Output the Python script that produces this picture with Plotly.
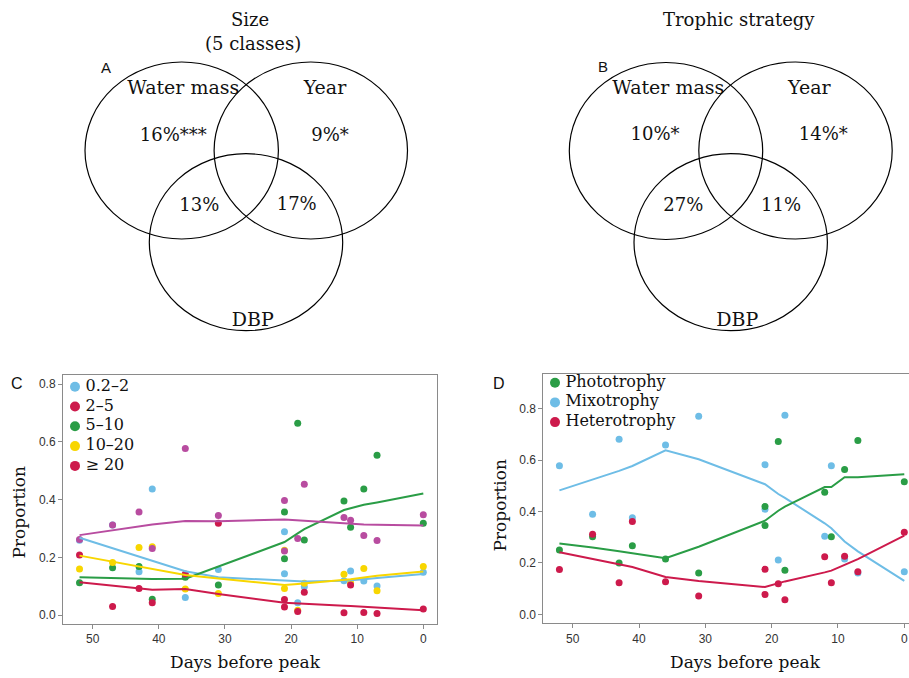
import plotly.graph_objects as go

# target page is 909x678; the page body margin is removed after plotting (post_script)
PAGE_W, PAGE_H = 909, 678
OFF = 0
W, H = PAGE_W - OFF, PAGE_H - OFF

# ---------------- data ----------------
# sampling days (two samples on day 21)
sample_days = [52, 47, 43, 41, 36, 31, 21, 21, 19, 18, 12, 11, 9, 7, 0]
fit_days = [52, 47, 43, 41, 36, 31, 21, 19, 18, 12, 11, 9, 7, 0]

# Panel C: size classes (proportions)
size_labels = ["0.2–2", "2–5", "5–10", "10–20", "≥ 20"]
size_02_2 = [0.259, 0.312, 0.150, 0.437, 0.061, 0.158, 0.289, 0.143, 0.043, 0.098, 0.119, 0.153, 0.118, 0.101, 0.148]
size_2_5 = [0.208, 0.030, 0.092, 0.043, 0.142, 0.318, 0.028, 0.054, 0.012, 0.079, 0.008, 0.104, 0.009, 0.005, 0.021]
size_5_10 = [0.112, 0.164, 0.168, 0.055, 0.131, 0.104, 0.195, 0.357, 0.665, 0.260, 0.395, 0.304, 0.437, 0.554, 0.318]
size_10_20 = [0.160, 0.182, 0.234, 0.237, 0.090, 0.075, 0.092, 0.225, 0.017, 0.110, 0.141, 0.112, 0.161, 0.084, 0.168]
size_ge20 = [0.262, 0.312, 0.357, 0.231, 0.577, 0.345, 0.397, 0.222, 0.265, 0.453, 0.338, 0.329, 0.276, 0.258, 0.348]

fit_02_2 = [0.268, 0.232, 0.202, 0.188, 0.152, 0.131, 0.119, 0.117, 0.116, 0.119, 0.120, 0.124, 0.128, 0.142]
fit_2_5 = [0.114, 0.103, 0.092, 0.088, 0.090, 0.073, 0.043, 0.040, 0.039, 0.032, 0.031, 0.028, 0.026, 0.017]
fit_5_10 = [0.131, 0.128, 0.125, 0.125, 0.126, 0.168, 0.253, 0.283, 0.298, 0.364, 0.370, 0.382, 0.390, 0.421]
fit_10_20 = [0.206, 0.185, 0.168, 0.160, 0.139, 0.127, 0.104, 0.108, 0.110, 0.121, 0.124, 0.130, 0.136, 0.151]
fit_ge20 = [0.277, 0.295, 0.308, 0.314, 0.326, 0.325, 0.331, 0.328, 0.325, 0.317, 0.315, 0.314, 0.313, 0.310]

# Panel D: trophic strategy (proportions)
troph_labels = ["Phototrophy", "Mixotrophy", "Heterotrophy"]
photo = [0.250, 0.302, 0.200, 0.267, 0.215, 0.161, 0.345, 0.419, 0.672, 0.171, 0.475, 0.302, 0.563, 0.676, 0.516]
mixo = [0.578, 0.389, 0.681, 0.376, 0.659, 0.770, 0.582, 0.409, 0.211, 0.774, 0.304, 0.578, 0.215, 0.161, 0.166]
hetero = [0.174, 0.311, 0.123, 0.361, 0.127, 0.071, 0.077, 0.175, 0.119, 0.057, 0.224, 0.123, 0.226, 0.166, 0.319]

fit_photo = [0.275, 0.260, 0.245, 0.238, 0.218, 0.263, 0.364, 0.403, 0.419, 0.495, 0.495, 0.533, 0.533, 0.545]
fit_mixo = [0.482, 0.523, 0.558, 0.577, 0.638, 0.603, 0.506, 0.468, 0.453, 0.354, 0.335, 0.283, 0.245, 0.130]
fit_hetero = [0.241, 0.215, 0.197, 0.184, 0.145, 0.130, 0.106, 0.120, 0.128, 0.163, 0.170, 0.192, 0.215, 0.306]

# Venn diagrams (variance partitioning)
venn_sets = ["Water mass", "Year", "DBP"]
venn_a_values = ["16%***", "9%*", "13%", "17%"]   # WM only, Year only, WM∩DBP, Year∩DBP
venn_b_values = ["10%*", "14%*", "27%", "11%"]

x_ticks = [50, 40, 30, 20, 10, 0]
y_ticks = [0.0, 0.2, 0.4, 0.6, 0.8]

# ---------------- styles / layout ----------------
BLUE = "#6EBDE6"
RED = "#CD1A4C"
GREEN = "#2A9D46"
YELLOW = "#F8D600"
MAGENTA = "#B84CA0"
SERIF = "DejaVu Serif"
SANS = "Liberation Sans"


def px(x):
    return (x - OFF) / W


def py(y):
    return 1 - (y - OFF) / H


fig = go.Figure()

# ---------- Panel C ----------
c_series = [
    (size_02_2, fit_02_2, BLUE),
    (size_5_10, fit_5_10, GREEN),
    (size_10_20, fit_10_20, YELLOW),
    (size_2_5, fit_2_5, RED),
    (size_ge20, fit_ge20, MAGENTA),
]
for vals, fit, col in c_series:
    fig.add_trace(go.Scatter(x=sample_days, y=vals, mode="markers", xaxis="x", yaxis="y",
                             marker=dict(color=col, size=7), showlegend=False))
for vals, fit, col in c_series:
    fig.add_trace(go.Scatter(x=fit_days, y=fit, mode="lines", xaxis="x", yaxis="y",
                             line=dict(color=col, width=2), showlegend=False))

# ---------- Panel D ----------
d_series = [(mixo, fit_mixo, BLUE), (photo, fit_photo, GREEN), (hetero, fit_hetero, RED)]
for vals, fit, col in d_series:
    fig.add_trace(go.Scatter(x=sample_days, y=vals, mode="markers", xaxis="x2", yaxis="y2",
                             marker=dict(color=col, size=7), showlegend=False))
for vals, fit, col in d_series:
    fig.add_trace(go.Scatter(x=fit_days, y=fit, mode="lines", xaxis="x2", yaxis="y2",
                             line=dict(color=col, width=2), showlegend=False))

# ---------- overlay (page-pixel helper axes): Venn diagrams and key boxes ----------
venn_layouts = [
    dict(centers=[(181.7, 150.5), (310.8, 150.5), (246.0, 242.2)],
         set_pos=[(183.3, 89), (325, 89), (252.7, 321.5)],
         val_pos=[(173.3, 136.5), (330, 136.5), (199.3, 206.5), (296.7, 205.5)],
         values=venn_a_values),
    dict(centers=[(666.0, 151.0), (795.5, 150.5), (730.7, 242.2)],
         set_pos=[(668.3, 89), (809.3, 89), (737.3, 321.5)],
         val_pos=[(655, 135.5), (823.3, 135.5), (683.3, 206.5), (781, 206.5)],
         values=venn_b_values),
]
RX, RY = 96.7, 88.5
shapes = []
for v in venn_layouts:
    for cx, cy in v["centers"]:
        shapes.append(dict(type="circle", xref="x3", yref="y3", x0=cx - RX, x1=cx + RX,
                           y0=cy - RY, y1=cy + RY, line=dict(color="black", width=1.2)))
    fig.add_trace(go.Scatter(x=[p[0] for p in v["set_pos"]], y=[p[1] for p in v["set_pos"]],
                             text=venn_sets, mode="text", xaxis="x3", yaxis="y3", showlegend=False,
                             textfont=dict(family=SERIF, size=19, color="#111")))
    fig.add_trace(go.Scatter(x=[p[0] for p in v["val_pos"]], y=[p[1] for p in v["val_pos"]],
                             text=v["values"], mode="text", xaxis="x3", yaxis="y3", showlegend=False,
                             textfont=dict(family=SERIF, size=18, color="#111")))

# keys (legends) drawn as marker+text rows
key_c = dict(x=75, y0=386.7, dy=19.8, labels=size_labels, colors=[BLUE, RED, GREEN, YELLOW, RED])
key_d = dict(x=555, y0=382.7, dy=19.7, labels=troph_labels, colors=[GREEN, BLUE, RED])
for k in (key_c, key_d):
    n = len(k["labels"])
    fig.add_trace(go.Scatter(x=[k["x"]] * n, y=[k["y0"] + i * k["dy"] for i in range(n)],
                             text=["\u2009" + t for t in k["labels"]], mode="markers+text",
                             textposition="middle right", xaxis="x3", yaxis="y3", showlegend=False,
                             marker=dict(color=k["colors"], size=10),
                             textfont=dict(family=SERIF, size=16, color="#111")))

axis_common = dict(showline=True, linecolor="#8a8a8a", linewidth=1,
                   ticks="outside", ticklen=4, tickcolor="#8a8a8a", showgrid=False,
                   zeroline=False, tickfont=dict(family=SANS, size=12, color="#333"))

annotations = []


def ann(text, x, y, size, family=SERIF, angle=0):
    annotations.append(dict(text=text, x=px(x), y=py(y), xref="paper", yref="paper",
                            showarrow=False, xanchor="center", yanchor="middle", textangle=angle,
                            font=dict(family=family, size=size, color="#111")))


ann("Size", 250, 19.5, 18)
ann("(5 classes)", 252.7, 43, 18)
ann("Trophic strategy", 739.3, 19.5, 18)
ann("A", 106, 67.5, 15, SANS)
ann("B", 603.3, 66.5, 15, SANS)
ann("C", 17, 383.5, 16, SANS)
ann("D", 499, 383.5, 16, SANS)
ann("Proportion", 18.5, 512, 17, angle=-90)
ann("Proportion", 499.5, 505, 17, angle=-90)
ann("Days before peak", 245.7, 662, 17)
ann("Days before peak", 745.7, 662, 17)

fig.update_layout(
    width=W, height=H, margin=dict(l=0, r=0, t=0, b=0),
    paper_bgcolor="white", plot_bgcolor="rgba(0,0,0,0)",
    xaxis=dict(domain=[px(63), px(437)], range=[54.5, -2.07], tickvals=x_ticks, anchor="y",
               mirror=True, **axis_common),
    yaxis=dict(domain=[py(624), py(375)], range=[-0.031, 0.832], tickvals=y_ticks, tickformat=".1f",
               anchor="x", mirror=True, **axis_common),
    xaxis2=dict(domain=[px(543.3), 1.0], range=[54.43, -0.71], tickvals=x_ticks, anchor="y2",
                mirror=True, **axis_common),
    yaxis2=dict(domain=[py(623.3), py(373.7)], range=[-0.035, 0.936], tickvals=y_ticks, tickformat=".1f",
                anchor="x2", mirror=False, **axis_common),
    xaxis3=dict(domain=[0, 1], range=[OFF, PAGE_W], visible=False, anchor="y3", fixedrange=True),
    yaxis3=dict(domain=[0, 1], range=[PAGE_H, OFF], visible=False, anchor="x3", fixedrange=True),
    shapes=shapes,
    annotations=annotations,
    showlegend=False,
    hovermode=False,
)

fig.write_html("out.html", config={"displayModeBar": False},
               post_script="document.body.style.margin='0';document.body.style.overflow='hidden';")
